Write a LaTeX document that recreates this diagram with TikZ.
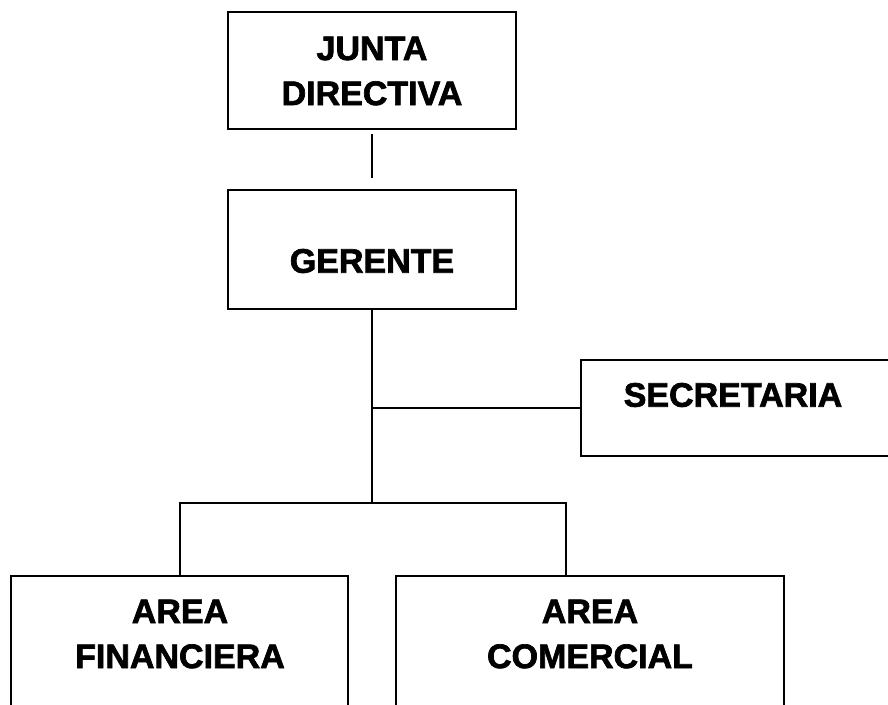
\documentclass[tikz,border=0pt]{standalone}
\usepackage{fontspec}
\setmainfont{Liberation Sans}[BoldFeatures={FakeBold=2}]
\usetikzlibrary{calc,positioning}

\tikzset{
  caja/.style={draw, line width=2pt, inner sep=0pt},
  rotulo/.style={font=\bfseries\fontsize{34}{45}\selectfont, align=center, inner sep=0pt}
}

\begin{document}
\begin{tikzpicture}[x=1pt, y=-1pt, line width=2pt]
        \useasboundingbox (0,0) rectangle (888,704);
        \clip (0,0) rectangle (888,704);

        % cajas
        \node[caja, minimum width=288pt, minimum height=117pt] (junta) at (372,70.5) {};
        \node[caja, minimum width=288pt, minimum height=119pt] (gerente) at (372,249.5) {};
        \node[caja, minimum width=314pt, minimum height=96pt] (secretaria) at (738,408) {};
        \node[caja, minimum width=337pt, minimum height=150pt] (financiera) at (179.5,651) {};
        \node[caja, minimum width=388pt, minimum height=150pt] (comercial) at (590,651) {};

        % textos
        \node[rotulo] (junta-t) at (372,71) {JUNTA\\DIRECTIVA};
        \node[rotulo] (gerente-t) at (372,261) {GERENTE};
        \node[rotulo] (secretaria-t) at (733,395) {SECRETARIA};
        \node[rotulo] (financiera-t) at (180,634) {AREA\\FINANCIERA};
        \node[rotulo] (comercial-t) at (590,634) {AREA\\COMERCIAL};

        % lineas
        \coordinate (ramal) at (372,503);
        \coordinate (comercial-in) at (566,576);

        \draw[shorten <=4pt, shorten >=11pt] (junta.south) -- (gerente.north);
        \draw (gerente.south) -- (ramal);
        \draw (gerente.south |- secretaria.west) -- (secretaria.west);
        \draw (financiera.north) |- (ramal) -| (comercial-in);
\end{tikzpicture}
\end{document}
